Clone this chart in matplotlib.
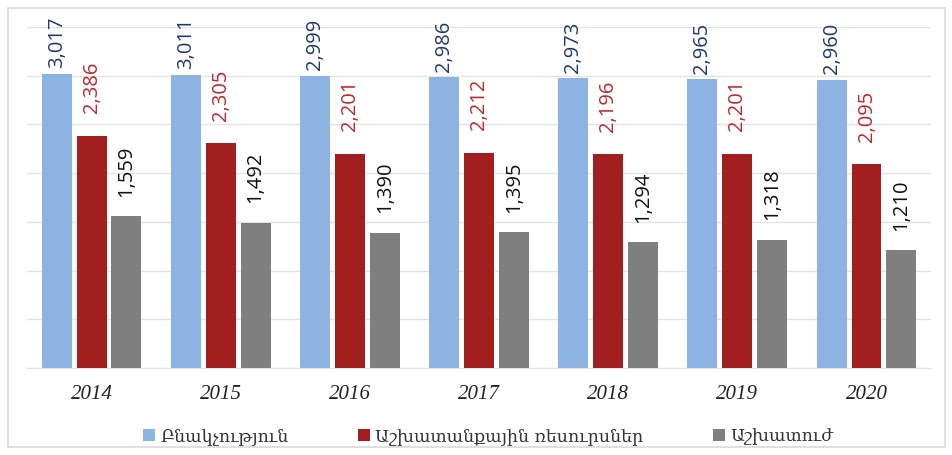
import matplotlib
matplotlib.use("Agg")
import matplotlib.pyplot as plt
import numpy as np
from matplotlib.patches import Rectangle

years = ["2014", "2015", "2016", "2017", "2018", "2019", "2020"]
population = [3017, 3011, 2999, 2986, 2973, 2965, 2960]
labor_resources = [2386, 2305, 2201, 2212, 2196, 2201, 2095]
labor_force = [1559, 1492, 1390, 1395, 1294, 1318, 1210]
series_names = ["Բնակչություն", "Աշխատանքային ռեսուրսներ", "Աշխատուժ"]

colors = ["#8DB3E2", "#A21F1F", "#7F7F7F"]
label_colors = ["#1F3A6B", "#C0262D", "#111111"]
offsets = [4, 16, 14]

fig = plt.figure(figsize=(9.53, 4.55), dpi=100)
ax = fig.add_axes([0.0283, 0.191, 0.9487, 0.7497])

x = np.arange(len(years))
width = 0.232
step = 0.27
for i, (vals, name) in enumerate(zip([population, labor_resources, labor_force], series_names)):
    pos = x + (i - 1) * step
    bars = ax.bar(pos, vals, width=width, color=colors[i], label=name, zorder=3)
    for b, v in zip(bars, vals):
        ax.annotate(f"{v:,}", (b.get_x() + b.get_width() / 2, v),
                    xytext=(0, offsets[i]), textcoords="offset points",
                    rotation=90, ha="center", va="bottom",
                    fontsize=14.5, color=label_colors[i], family=["Open Sans", "DejaVu Sans"])

ax.set_xlim(-0.5, len(years) - 0.5)
ax.set_ylim(0, 3500)
ax.set_yticks(np.arange(0, 3501, 500))
ax.yaxis.grid(True, color="#E3E3E3", linewidth=1, zorder=0)
ax.tick_params(axis="y", left=False, labelleft=False)
ax.tick_params(axis="x", bottom=False, pad=9)
ax.set_xticks(x)
ax.set_xticklabels(years, fontsize=15, style="italic", family=["Liberation Serif"], color="#222222")
for s in ["top", "right", "left"]:
    ax.spines[s].set_visible(False)
ax.spines["bottom"].set_color("#E3E3E3")

leg = ax.legend(loc="upper center", bbox_to_anchor=(0.51, -0.13), ncol=3, frameon=False,
                handlelength=0.7, handleheight=0.7, handletextpad=0.3,
                columnspacing=4.0, prop={"family": ["DejaVu Serif", "DejaVu Sans"], "size": 12.5})
for t in leg.get_texts():
    t.set_color("#333333")

fig.patches.append(Rectangle((8 / 953, 8 / 455), 937 / 953, 439 / 455, transform=fig.transFigure,
                             fill=False, edgecolor="#D9D9D9", linewidth=1.2))

fig.savefig("out.png", dpi=100)
